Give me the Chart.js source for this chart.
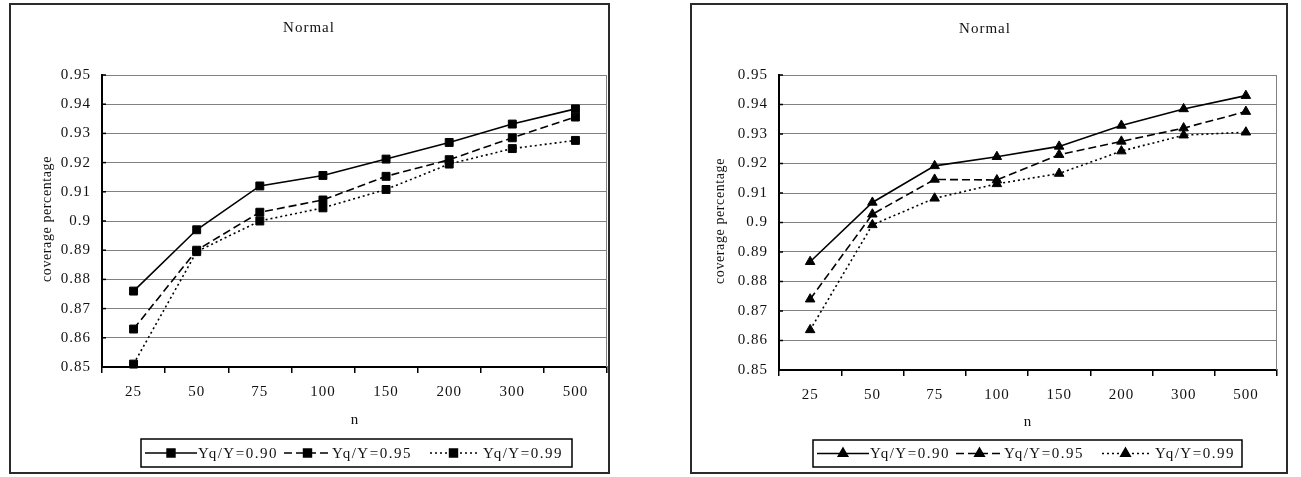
<!DOCTYPE html>
<html><head><meta charset="utf-8">
<script src="https://cdn.jsdelivr.net/npm/chart.js@4.4.0/dist/chart.umd.min.js"></script>
<style>
html,body{margin:0;padding:0;background:#fff;width:1301px;height:477px;overflow:hidden;}
.wrap{position:absolute;top:0;height:477px;}
#w1{left:0;width:650px;}
#w2{left:650px;width:651px;}
canvas{display:block;}
</style></head><body>
<div class="wrap" id="w1"><canvas id="c1"></canvas></div>
<div class="wrap" id="w2"><canvas id="c2"></canvas></div>
<script>
// ---- data ----
const categories = ['25', '50', '75', '100', '150', '200', '300', '500'];
const seriesNames = ['Yq/Y=0.90', 'Yq/Y=0.95', 'Yq/Y=0.99'];
const chartTitle = 'Normal';
const xTitle = 'n';
const yTitle = 'coverage percentage';
const yMin = 0.85, yMax = 0.95, yStep = 0.01;

const leftSeries090 = [0.876, 0.897, 0.912, 0.9156, 0.9212, 0.9269, 0.9332, 0.9384];
const leftSeries095 = [0.863, 0.890, 0.903, 0.9072, 0.9153, 0.9210, 0.9285, 0.9356];
const leftSeries099 = [0.851, 0.8895, 0.900, 0.9045, 0.9108, 0.9195, 0.9248, 0.9276];

const rightSeries090 = [0.8867, 0.9068, 0.9192, 0.9223, 0.9258, 0.9329, 0.9385, 0.9430];
const rightSeries095 = [0.8740, 0.9028, 0.9146, 0.9144, 0.9230, 0.9275, 0.9320, 0.9376];
const rightSeries099 = [0.8636, 0.8992, 0.9082, 0.9131, 0.9166, 0.9242, 0.9296, 0.9306];

// ---- styling / layout ----
const FONT = '"Liberation Serif", "Times New Roman", serif';
const dashes = [[], [8, 4], [2, 3]];
const legendLineStart = [4, 143, 289];
const legendLineLen = [52, 47, 47];
const legendTextStart = [57, 191, 342];

const layouts = {
  left: {canvasW: 650, frame: [10, 4, 609, 473], area: {left: 102, right: 607, top: 75, bottom: 367},
         title: [309, 28], yTitle: [47, 219], nTitle: [355, 420], legend: [141, 439, 572, 467]},
  right: {canvasW: 651, frame: [41, 4, 637, 473], area: {left: 129, right: 627, top: 75, bottom: 370},
          title: [335, 29], yTitle: [70, 221], nTitle: [378, 422], legend: [163, 440, 592, 467]}
};

const decorPlugin = {
  id: 'decor',
  beforeDraw(chart) {
    chart.ctx.letterSpacing = '1px';
  },
  beforeDatasetsDraw(chart) {
    const ctx = chart.ctx, a = chart.chartArea;
    ctx.save();
    ctx.strokeStyle = '#808080';
    ctx.lineWidth = 1;
    ctx.beginPath();
    ctx.moveTo(a.right - 0.5, a.top);
    ctx.lineTo(a.right - 0.5, a.bottom);
    ctx.stroke();
    const ys = chart.scales.y;
    ctx.strokeStyle = '#000';
    ctx.lineWidth = 1.5;
    ys.ticks.forEach(t => {
      const py = ys.getPixelForValue(t.value);
      ctx.beginPath();
      ctx.moveTo(a.left, py);
      ctx.lineTo(a.left + 4, py);
      ctx.stroke();
    });
    ctx.restore();
  },
  afterDraw(chart) {
    const L = chart.options.plugins.decor.layout;
    const ctx = chart.ctx;
    ctx.save();
    ctx.strokeStyle = '#2a2a2a';
    ctx.lineWidth = 2;
    ctx.setLineDash([]);
    ctx.strokeRect(L.frame[0], L.frame[1], L.frame[2] - L.frame[0], L.frame[3] - L.frame[1]);
    ctx.fillStyle = '#111';
    ctx.font = '15px ' + FONT;
    ctx.letterSpacing = '1px';
    ctx.textAlign = 'center';
    ctx.textBaseline = 'middle';
    ctx.fillText(chartTitle, L.title[0], L.title[1]);
    ctx.fillText(xTitle, L.nTitle[0], L.nTitle[1]);
    ctx.save();
    ctx.translate(L.yTitle[0], L.yTitle[1]);
    ctx.rotate(-Math.PI / 2);
    ctx.font = '14px ' + FONT;
    ctx.letterSpacing = '0.6px';
    ctx.fillText(yTitle, 0, 0);
    ctx.restore();
    const [bx0, by0, bx1, by1] = L.legend;
    ctx.strokeStyle = '#000';
    ctx.lineWidth = 1.5;
    ctx.strokeRect(bx0, by0, bx1 - bx0, by1 - by0);
    const cy = (by0 + by1) / 2;
    chart.data.datasets.forEach((ds, i) => {
      const x0 = bx0 + legendLineStart[i];
      const x1 = x0 + legendLineLen[i];
      ctx.strokeStyle = '#000';
      ctx.lineWidth = 1.5;
      ctx.setLineDash(ds.borderDash || []);
      ctx.beginPath();
      ctx.moveTo(x0, cy);
      ctx.lineTo(x1, cy);
      ctx.stroke();
      ctx.setLineDash([]);
      ctx.fillStyle = '#000';
      Chart.helpers.drawPoint(ctx, {pointStyle: ds.pointStyle, radius: ds.pointRadius, rotation: 0, borderWidth: 1}, (x0 + x1) / 2, cy);
      ctx.fillStyle = '#111';
      ctx.font = '15px ' + FONT;
      ctx.letterSpacing = '1.5px';
      ctx.textAlign = 'left';
      ctx.textBaseline = 'middle';
      ctx.fillText(seriesNames[i], bx0 + legendTextStart[i], cy + 1);
    });
    ctx.restore();
  }
};

function makeChart(canvasId, L, seriesList, pointStyle, radius) {
  const datasets = seriesList.map((vals, i) => ({
    label: seriesNames[i],
    data: vals,
    borderColor: '#000',
    backgroundColor: '#000',
    borderWidth: 1.6,
    borderDash: dashes[i],
    pointStyle: pointStyle,
    pointRadius: radius,
    pointBackgroundColor: '#000',
    pointBorderColor: '#000',
    pointBorderWidth: 1,
    tension: 0,
    fill: false,
    clip: false
  }));
  return new Chart(document.getElementById(canvasId), {
    type: 'line',
    data: {labels: categories, datasets},
    options: {
      responsive: true,
      maintainAspectRatio: false,
      devicePixelRatio: 1,
      animation: false,
      layout: {padding: {left: 0, top: L.area.top, right: L.canvasW - L.area.right, bottom: 0}},
      plugins: {
        legend: {display: false},
        title: {display: false},
        tooltip: {enabled: false},
        decor: {layout: L}
      },
      scales: {
        x: {
          type: 'category',
          offset: true,
          afterFit: s => { s.height = 477 - L.area.bottom; },
          grid: {display: true, drawOnChartArea: false, drawTicks: true, tickLength: 6, offset: true, color: '#000', lineWidth: 1.5},
          border: {display: true, color: '#000', width: 2},
          ticks: {color: '#111', font: {family: FONT, size: 15}, padding: 10, maxRotation: 0, autoSkip: false}
        },
        y: {
          min: yMin, max: yMax,
          afterFit: s => { s.width = L.area.left; },
          grid: {color: '#808080', lineWidth: 1, drawTicks: false, tickLength: 0},
          border: {display: true, color: '#000', width: 2},
          ticks: {
            stepSize: yStep, color: '#111', font: {family: FONT, size: 15}, padding: 11,
            callback: v => String(parseFloat(Number(v).toFixed(2)))
          }
        }
      }
    },
    plugins: [decorPlugin]
  });
}

makeChart('c1', layouts.left, [leftSeries090, leftSeries095, leftSeries099], 'rect', 5.6);
makeChart('c2', layouts.right, [rightSeries090, rightSeries095, rightSeries099], 'triangle', 5.5);
</script>
</body></html>
